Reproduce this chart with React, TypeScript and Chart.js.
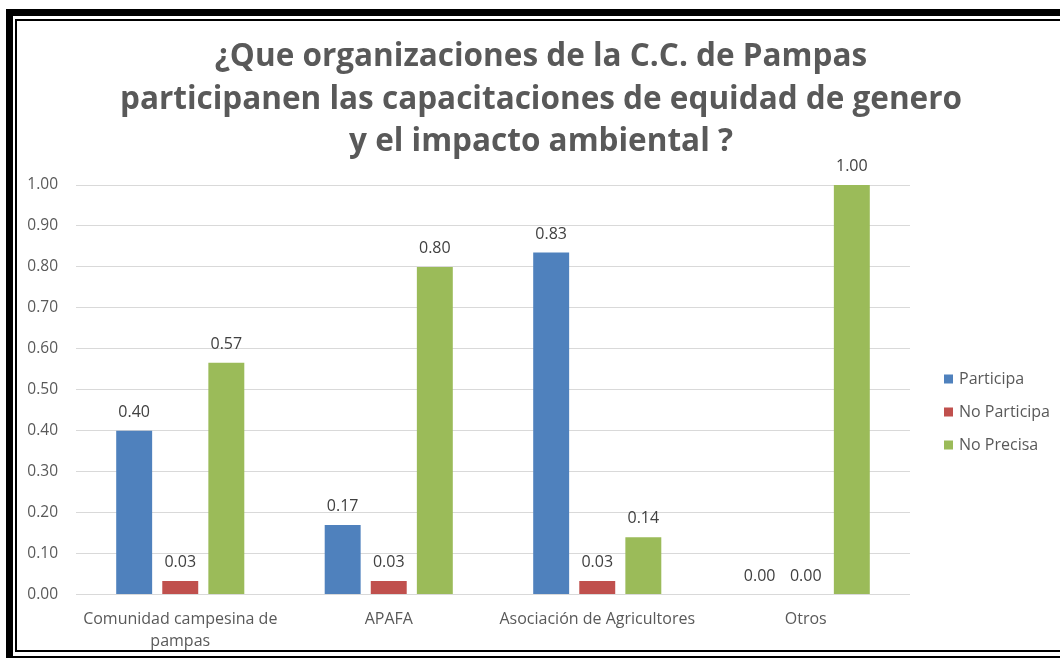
import React, { useEffect, useRef } from "react";
import { Chart, registerables } from "chart.js";

Chart.register(...registerables);

const categories: (string | string[])[] = [
  ["Comunidad campesina de", "pampas"],
  "APAFA",
  "Asociación de Agricultores",
  "Otros",
];
const seriesNames = ["Participa", "No Participa", "No Precisa"];
const participa = [0.4, 0.17, 0.835, 0.0];
const noParticipa = [0.033, 0.033, 0.033, 0.0];
const noPrecisa = [0.566, 0.8, 0.14, 1.0];
const seriesColors = ["#4f81bd", "#c0504d", "#9bbb59"];
const titleLines = [
  "¿Que organizaciones de la C.C. de Pampas",
  "participanen las capacitaciones de equidad de genero",
  "y el impacto ambiental ?",
];

const FONT = "'Open Sans', sans-serif";

const dataLabelPlugin = {
  id: "dataLabels",
  afterDatasetsDraw(chart: any) {
    const ctx = chart.ctx;
    ctx.save();
    ctx.font = `16px ${FONT}`;
    ctx.fillStyle = "#404040";
    ctx.textAlign = "center";
    ctx.textBaseline = "alphabetic";
    chart.data.datasets.forEach((ds: any, i: number) => {
      const meta = chart.getDatasetMeta(i);
      meta.data.forEach((bar: any, j: number) => {
        const v = ds.data[j];
        ctx.fillText(Number(v).toFixed(2), bar.x, bar.y - 14);
      });
    });
    ctx.restore();
  },
};

const titlePlugin = {
  id: "customTitle",
  afterDraw(chart: any) {
    const ctx = chart.ctx;
    ctx.save();
    ctx.font = `bold 31.5px ${FONT}`;
    ctx.fillStyle = "#595959";
    ctx.textAlign = "center";
    ctx.textBaseline = "middle";
    const ys = [57.5, 100, 142.5];
    titleLines.forEach((t, i) => ctx.fillText(t, 541, ys[i]));
    ctx.restore();
  },
};

const legendPlugin = {
  id: "customLegend",
  afterDraw(chart: any) {
    const ctx = chart.ctx;
    ctx.save();
    ctx.font = `16px ${FONT}`;
    ctx.textBaseline = "middle";
    ctx.textAlign = "left";
    const x0 = 944;
    const ys = [379, 412, 445];
    chart.data.datasets.forEach((ds: any, i: number) => {
      ctx.fillStyle = ds.backgroundColor;
      ctx.fillRect(x0, ys[i] - 4.5, 9, 9);
      ctx.fillStyle = "#595959";
      ctx.fillText(ds.label, x0 + 15, ys[i]);
    });
    ctx.restore();
  },
};

export default function App() {
  const canvasRef = useRef<HTMLCanvasElement | null>(null);

  useEffect(() => {
    if (!canvasRef.current) return;
    const chart = new Chart(canvasRef.current, {
      type: "bar",
      data: {
        labels: categories,
        datasets: [participa, noParticipa, noPrecisa].map((d, i) => ({
          label: seriesNames[i],
          data: d,
          backgroundColor: seriesColors[i],
          borderWidth: 0,
          categoryPercentage: 0.663,
          barPercentage: 0.78,
        })),
      },
      options: {
        animation: false,
        responsive: false,
        maintainAspectRatio: false,
        layout: { padding: { left: 26, right: 150, top: 185, bottom: 12.5 } },
        plugins: {
          legend: { display: false },
          tooltip: { enabled: false },
          title: { display: false },
        },
        scales: {
          x: {
            grid: { display: false },
            border: { display: false },
            ticks: {
              color: "#595959",
              font: { family: FONT, size: 16, lineHeight: 1.375 },
              maxRotation: 0,
              autoSkip: false,
              padding: 5.5,
            },
          },
          y: {
            min: 0,
            max: 1,
            afterFit: (s: any) => {
              s.width = 50;
            },
            grid: { color: "#d9d9d9", drawTicks: false },
            border: { display: false },
            ticks: {
              stepSize: 0.1,
              color: "#595959",
              font: { family: FONT, size: 15.5 },
              padding: 18,
              callback: (v: any) => Number(v).toFixed(2),
            },
          },
        },
      },
      plugins: [dataLabelPlugin, titlePlugin, legendPlugin],
    });
    return () => chart.destroy();
  }, []);

  return (
    <div
      style={{
        position: "fixed",
        left: 0,
        top: 0,
        width: 1060,
        height: 658,
        background: "#fff",
        overflow: "hidden",
      }}
    >
      <div
        style={{
          position: "absolute",
          left: 6,
          top: 9,
          width: 1100,
          height: 640,
          borderTop: "7px solid #000",
          borderLeft: "7px solid #000",
          borderBottom: "3px solid #000",
        }}
      />
      <div
        style={{
          position: "absolute",
          left: 15,
          top: 19,
          width: 1100,
          height: 629,
          borderTop: "2px solid #000",
          borderLeft: "2px solid #000",
          borderBottom: "2px solid #000",
        }}
      />
      <canvas
        ref={canvasRef}
        width={1060}
        height={670}
        style={{ position: "absolute", left: 0, top: 0, width: 1060, height: 670 }}
      />
    </div>
  );
}
